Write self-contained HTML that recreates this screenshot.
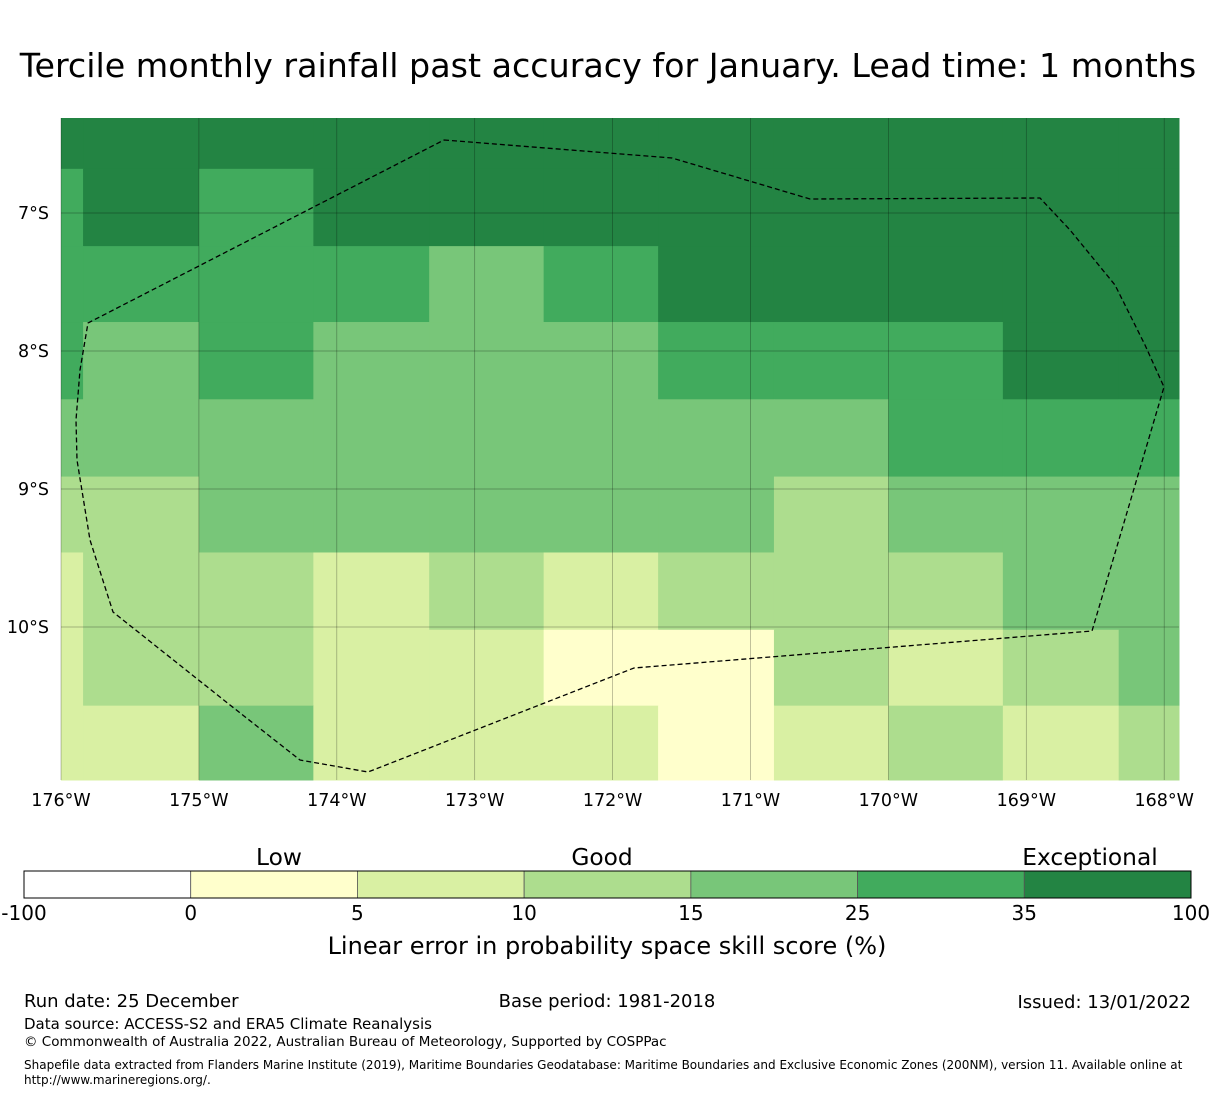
<!DOCTYPE html>
<html><head><meta charset="utf-8"><style>
body{margin:0;background:#fff;width:1215px;height:1095px;overflow:hidden;font-family:"DejaVu Sans","Liberation Sans",sans-serif;}
svg{position:absolute;left:0;top:0}
</style></head><body>
<svg id="chart" width="1215" height="1095">
<text x="608" y="77" font-size="33.3" text-anchor="middle">Tercile monthly rainfall past accuracy for January. Lead time: 1 months</text>
<g id="cells"></g><g id="grid"></g>
<polyline fill="none" stroke="#000" stroke-width="1.3" stroke-dasharray="5,3" points="444,140 672,158 810,199 1040,198 1070,230 1115,285 1145,345 1164,387 1092,631 634,668 368,772 300,760 230,705 113,612 90,540 77,460 76,420 80,370 88,323 444,140"/>
<g id="axes"></g><g id="cbar"></g>
<text x="24" y="1007" font-size="18">Run date: 25 December</text>
<text x="607" y="1007" font-size="18" text-anchor="middle">Base period: 1981-2018</text>
<text x="1191" y="1008" font-size="18" text-anchor="end">Issued: 13/01/2022</text>
<text x="24" y="1029" font-size="15">Data source: ACCESS-S2 and ERA5 Climate Reanalysis</text>
<text x="24" y="1046" font-size="13.5">© Commonwealth of Australia 2022, Australian Bureau of Meteorology, Supported by COSPPac</text>
<text x="24" y="1069" font-size="12">Shapefile data extracted from Flanders Marine Institute (2019), Maritime Boundaries Geodatabase: Maritime Boundaries and Exclusive Economic Zones (200NM), version 11. Available online at</text>
<text x="24" y="1084" font-size="12">http://www.marineregions.org/.</text>
</svg>
<script>
const NS="http://www.w3.org/2000/svg";
// data
const colBounds=[176,175.84,175.0,174.17,173.33,172.5,171.67,170.83,170.0,169.17,168.33,167.89]; // west longitudes
const rowBounds=[6.31,6.68,7.24,7.79,8.35,8.91,9.46,10.02,10.57,11.11]; // south latitudes
const skill=[
[40,40,40,40,40,40,40,40,40,40,40],
[30,40,30,40,40,40,40,40,40,40,40],
[30,30,30,30,20,30,40,40,40,40,40],
[30,20,30,20,20,20,30,30,30,40,40],
[20,20,20,20,20,20,20,20,30,30,30],
[12,12,20,20,20,20,20,12,20,20,20],
[7,12,12,7,12,7,12,12,12,20,20],
[7,12,12,7,7,3,3,12,7,12,20],
[7,7,20,7,7,7,3,7,12,7,12]];
const levels=[-100,0,5,10,15,25,35,100];
const colors=["#ffffff","#ffffcc","#d9f0a3","#addd8e","#78c679","#41ab5d","#238443"];
const lonTicks=[176,175,174,173,172,171,170,169,168];
const latTicks=[7,8,9,10];
// axes
const X0=61,X1=1179,Y0=118,Y1=780;
const xs=lon=>61+(176-lon)*137.9;
const ys=lat=>213+(lat-7)*138;
function el(t,a,p){const e=document.createElementNS(NS,t);for(const k in a)e.setAttribute(k,a[k]);p.appendChild(e);return e;}
const colorOf=v=>{for(let i=levels.length-2;i>=0;i--)if(v>=levels[i])return colors[i];return colors[0];};
const cells=document.getElementById('cells');
skill.forEach((row,r)=>row.forEach((v,c)=>{
 const x=Math.max(X0,xs(colBounds[c])),x2=Math.min(X1,xs(colBounds[c+1]));
 const y=Math.max(Y0,ys(rowBounds[r])),y2=Math.min(Y1,ys(rowBounds[r+1]));
 const e=el('rect',{x:x,y:y,width:x2-x+0.5,height:y2-y+0.5,fill:colorOf(v)},cells);
 
 
}));
const grid=document.getElementById('grid'),axes=document.getElementById('axes');
lonTicks.forEach(l=>{const x=xs(l);
 const g=el('line',{x1:x,x2:x,y1:Y0,y2:Y1,stroke:'#000','stroke-opacity':0.35,'stroke-width':0.7},grid);
 
 const t=el('text',{x:x,y:806,'font-size':17.5,'text-anchor':'middle'},axes);t.textContent=l+'°W';
 });
latTicks.forEach(l=>{const y=ys(l);
 const g=el('line',{x1:X0,x2:X1,y1:y,y2:y,stroke:'#000','stroke-opacity':0.35,'stroke-width':0.7},grid);
 
 const t=el('text',{x:49,y:y+6,'font-size':17.5,'text-anchor':'end'},axes);t.textContent=l+'°S';
 });
// colorbar
const cb=document.getElementById('cbar');const CX=24,CW=1167,n=colors.length,sw=CW/n;
colors.forEach((c,i)=>{const r=el('rect',{x:CX+i*sw,y:871,width:sw,height:27,fill:c,stroke:'#555','stroke-width':0.8},cb);
 });
el('rect',{x:CX,y:871,width:CW,height:27,fill:'none',stroke:'#000','stroke-width':1},cb);
levels.forEach((v,i)=>{const t=el('text',{x:CX+i*sw,y:920,'font-size':20,'text-anchor':'middle'},cb);t.textContent=v;
 });
[['Low',279],['Good',602],['Exceptional',1090]].forEach(([s,x])=>{const t=el('text',{x:x,y:865,'font-size':23.3,'text-anchor':'middle'},cb);t.textContent=s;
 });
const lt=el('text',{x:607,y:954,'font-size':24,'text-anchor':'middle'},cb);lt.textContent='Linear error in probability space skill score (%)';

</script>
</body></html>
